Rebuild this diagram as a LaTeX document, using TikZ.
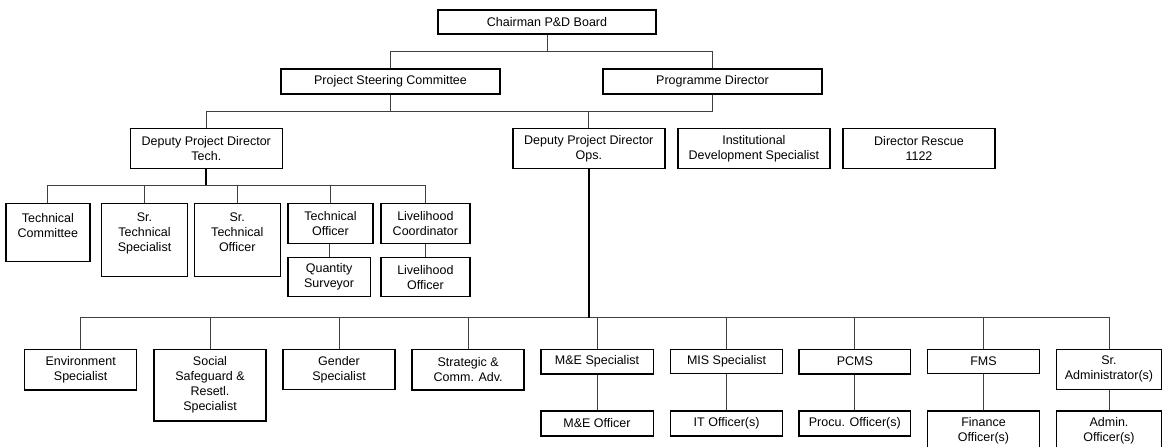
\documentclass[tikz,border=0pt]{standalone}
\usepackage{fontspec}
\setmainfont{Liberation Sans}
\begin{document}
\begin{tikzpicture}[x=1pt,y=-1pt,
    box/.style={draw,line width=1.5pt,align=center,inner sep=0pt,
      font=\fontsize{12.5}{15}\selectfont},
    conn/.style={line width=0.9pt,black!75},
    trunk/.style={line width=2pt}]
  \useasboundingbox (0,0) rectangle (1162,447);
  % top levels
  \node[box,minimum width=218,minimum height=24] (chair) at (547,22.2) {Chairman P\&D Board};
  \node[box,minimum width=219,minimum height=25] (psc) at (390.5,81.7) {Project Steering Committee};
  \node[box,minimum width=219,minimum height=25] (pd) at (712.5,81.7) {Programme Director};
  \node[box,minimum width=152,minimum height=40] (dpdt) at (206.3,148.6) {Deputy Project Director\\Tech.};
  \node[box,minimum width=152,minimum height=40] (dpdo) at (588.8,148.6) {Deputy Project Director\\Ops.};
  \node[box,minimum width=152,minimum height=40] (ids) at (753.9,148.6) {Institutional\\Development Specialist};
  \node[box,minimum width=152,minimum height=40] (dr) at (919,148.6) {Director Rescue\\1122};
  % technical side
  \node[box,minimum width=84,minimum height=58.4] (tc) at (47.9,232.5) {Technical\\Committee\\\mbox{}};
  \node[box,minimum width=86,minimum height=73.4] (sts) at (144.5,240) {Sr.\\Technical\\Specialist\\\mbox{}};
  \node[box,minimum width=86,minimum height=73.4] (sto) at (237.3,240) {Sr.\\Technical\\Officer\\\mbox{}};
  \node[box,minimum width=85,minimum height=40] (tec) at (330.5,223.3) {Technical\\Officer};
  \node[box,minimum width=89,minimum height=40] (lc) at (425.4,223.3) {Livelihood\\Coordinator};
  \node[box,minimum width=82.6,minimum height=39] (qs) at (329.1,277.2) {Quantity\\Surveyor};
  \node[box,minimum width=89,minimum height=39] (lo) at (425.4,277.2) {Livelihood\\Officer};
  % operations side
  \node[box,minimum width=112,minimum height=40.7] (env) at (80.7,369.7) {Environment\\Specialist};
  \node[box,minimum width=112,minimum height=71.7] (ssr) at (210,385.2) {Social\\Safeguard \&\\Resetl.\\Specialist};
  \node[box,minimum width=112,minimum height=40] (gen) at (339,369.3) {Gender\\Specialist};
  \node[box,minimum width=112,minimum height=40.7] (sca) at (468.2,369.7) {Strategic \&\\Comm. Adv.};
  \node[box,minimum width=112.5,minimum height=24.5] (mes) at (597,361.6) {M\&E Specialist};
  \node[box,minimum width=112,minimum height=24] (miss) at (726.6,361.3) {MIS Specialist};
  \node[box,minimum width=111.3,minimum height=24.5] (pcms) at (854.8,361.6) {PCMS};
  \node[box,minimum width=112,minimum height=24] (fms) at (983.5,361.3) {FMS};
  \node[box,minimum width=104.6,minimum height=40] (sra) at (1109,369.3) {Sr.\\Administrator(s)};
  \node[box,minimum width=112.5,minimum height=25] (meo) at (597,423.5) {M\&E Officer};
  \node[box,minimum width=112,minimum height=25] (ito) at (726.6,423.5) {IT Officer(s)};
  \node[box,minimum width=111.3,minimum height=25] (pro) at (854.8,423.5) {Procu. Officer(s)};
  \node[box,minimum width=112,minimum height=40] (fio) at (983.5,431) {Finance\\Officer(s)};
  \node[box,minimum width=104.6,minimum height=40] (ado) at (1109,431) {Admin.\\Officer(s)};
  % connectors
  \coordinate (top) at (547,51.7);
  \coordinate (mid) at (390.5,111);
  \coordinate (tbus) at (206.3,185.3);
  \coordinate (obus) at (588.8,317.7);
  \draw[conn] (chair.south) -- (top);
  \draw[conn] (psc.north) |- (top);
  \draw[conn] (pd.north) |- (top);
  \draw[conn] (psc.south) -- (mid);
  \draw[conn] (pd.south) |- (mid);
  \draw[conn] (dpdt.north) |- (mid);
  \draw[conn] (dpdo.north) -- (dpdo.north |- mid);
  \foreach \n in {tc,sts,sto,tec,lc}
    \draw[conn] (\n.north) |- (tbus);
  \draw[trunk] (dpdt.south) -- (tbus);
  \draw[conn] (qs.north) -- (qs.north |- tec.south);
  \draw[conn] (lo.north) -- (lc.south);
  \foreach \n in {env,ssr,gen,sca,mes,miss,pcms,fms,sra}
    \draw[conn] (\n.north) |- (obus);
  \draw[trunk] (dpdo.south) -- (obus);
  \draw[conn] (mes.south) -- (meo.north);
  \draw[conn] (miss.south) -- (ito.north);
  \draw[conn] (pcms.south) -- (pro.north);
  \draw[conn] (fms.south) -- (fio.north);
  \draw[conn] (sra.south) -- (ado.north);
\end{tikzpicture}
\end{document}
